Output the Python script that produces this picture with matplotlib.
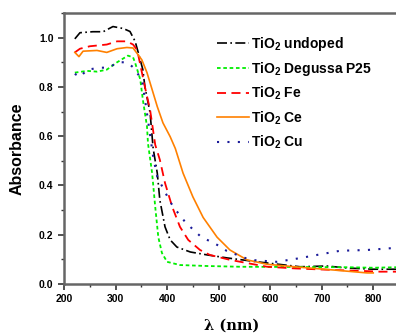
import numpy as np
import matplotlib
matplotlib.use("Agg")
import matplotlib.pyplot as plt
from matplotlib.ticker import MultipleLocator

plt.rcParams["font.family"] = "Liberation Sans"
plt.rcParams["font.weight"] = "bold"
plt.rcParams["mathtext.fontset"] = "custom"
plt.rcParams["mathtext.rm"] = "Liberation Sans:bold"
plt.rcParams["mathtext.bf"] = "Liberation Sans:bold"

# wavelength (nm) / absorbance
wl_undoped = [221, 231, 256, 276, 295, 315, 328, 338, 344, 353, 357, 367, 373, 381, 386, 396, 406, 419, 445, 478, 516, 575, 658, 710, 749, 800, 845]
ab_undoped = [0.995, 1.02, 1.024, 1.024, 1.045, 1.037, 1.025, 0.985, 0.94, 0.87, 0.80, 0.695, 0.55, 0.45, 0.34, 0.232, 0.179, 0.15, 0.13, 0.118, 0.106, 0.09, 0.07, 0.073, 0.065, 0.06, 0.06]

wl_p25 = [221, 245, 264, 283, 303, 324, 334, 338, 348, 353, 361, 363, 371, 377, 383, 390, 400, 425, 478, 542, 650, 750, 800, 845]
ab_p25 = [0.858, 0.865, 0.862, 0.87, 0.9, 0.927, 0.92, 0.898, 0.83, 0.748, 0.64, 0.57, 0.45, 0.313, 0.19, 0.126, 0.09, 0.077, 0.073, 0.07, 0.069, 0.068, 0.066, 0.068]

wl_fe = [221, 231, 250, 283, 303, 322, 334, 342, 357, 367, 377, 386, 396, 410, 425, 441, 464, 483, 522, 555, 594, 650, 722, 780, 813, 845]
ab_fe = [0.94, 0.955, 0.965, 0.972, 0.985, 0.985, 0.972, 0.95, 0.80, 0.707, 0.565, 0.504, 0.41, 0.313, 0.232, 0.179, 0.138, 0.118, 0.098, 0.085, 0.07, 0.063, 0.057, 0.053, 0.05, 0.05]

wl_ce = [221, 229, 237, 264, 283, 303, 322, 334, 351, 361, 371, 381, 392, 406, 416, 431, 450, 470, 497, 522, 555, 594, 658, 722, 788, 800]
ab_ce = [0.94, 0.923, 0.945, 0.948, 0.94, 0.955, 0.96, 0.958, 0.91, 0.858, 0.789, 0.72, 0.654, 0.598, 0.55, 0.45, 0.354, 0.27, 0.19, 0.138, 0.098, 0.08, 0.068, 0.057, 0.045, 0.045]

wl_cu = [221, 231, 245, 270, 283, 309, 322, 334, 351, 357, 364, 373, 381, 406, 421, 435, 449, 464, 478, 497, 516, 536, 561, 613, 658, 691, 736, 788, 839, 850]
ab_cu = [0.853, 0.84, 0.87, 0.878, 0.878, 0.90, 0.90, 0.88, 0.83, 0.75, 0.65, 0.516, 0.435, 0.333, 0.289, 0.252, 0.224, 0.195, 0.179, 0.159, 0.134, 0.118, 0.098, 0.09, 0.105, 0.118, 0.135, 0.138, 0.146, 0.146]

labels = ["TiO$_\\mathbf{2}$ undoped", "TiO$_\\mathbf{2}$ Degussa P25", "TiO$_\\mathbf{2}$ Fe",
          "TiO$_\\mathbf{2}$ Ce", "TiO$_\\mathbf{2}$ Cu"]

fig = plt.figure(figsize=(3.96, 3.33), dpi=100)
ax = fig.add_axes([64/396, 1-284/333, 335/396, 271/333])

ax.plot(wl_undoped, ab_undoped, color="black", ls=(0, (6, 2, 1, 2)), lw=1.2, label=labels[0])
ax.plot(wl_p25, ab_p25, color="#00ee00", ls=(0, (2, 1.5)), lw=1.3, label=labels[1])
ax.plot(wl_fe, ab_fe, color="red", ls=(0, (5, 3)), lw=1.3, label=labels[2])
ax.plot(wl_ce, ab_ce, color="#ff8000", ls="-", lw=1.2, label=labels[3])
ax.plot(wl_cu, ab_cu, color="#1a1a99", ls=(0, (1, 4)), lw=1.5, label=labels[4])

ax.set_xlim(200, 850)
ax.set_ylim(0, 1.1)
ax.xaxis.set_major_locator(MultipleLocator(100))
ax.xaxis.set_minor_locator(MultipleLocator(50))
ax.yaxis.set_minor_locator(MultipleLocator(0.1))
ax.set_yticks(np.arange(0, 1.01, 0.2))
ax.set_yticklabels(["0.0", "0.2", "0.4", "0.6", "0.8", "1.0"])
ax.tick_params(which="major", direction="out", length=4, width=1.2, labelsize=7.5, colors="#333333", labelcolor="black")
ax.tick_params(which="minor", direction="out", length=2.5, width=1, colors="#333333")
for sp in ax.spines.values():
    sp.set_color("#666666")
    sp.set_linewidth(1.8)

ax.set_xlabel("λ (nm)", family="DejaVu Serif", fontsize=10.5, fontweight="bold", labelpad=10)
ax.set_ylabel("Absorbance", fontsize=11.5, fontweight="bold", labelpad=10)

leg = ax.legend(loc="upper left", bbox_to_anchor=(0.42, 0.965), frameon=False, fontsize=10,
                handlelength=2.3, handletextpad=0.15, labelspacing=0.5)

fig.savefig("out.png", dpi=100)
